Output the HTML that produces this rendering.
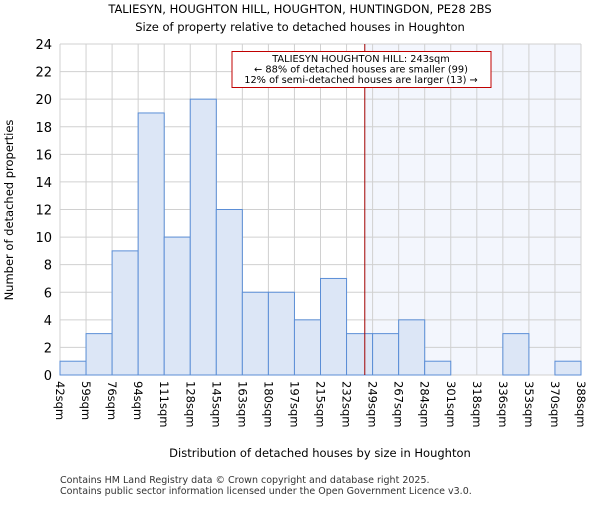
<!DOCTYPE html>
<html><head><meta charset="utf-8"><style>
body{margin:0;background:#fff}
svg{font-family:"DejaVu Sans","Liberation Sans",sans-serif}
</style></head><body>
<svg id="c" width="600" height="500" viewBox="0 0 600 500">
<text x="300" y="13" text-anchor="middle" font-size="11.5">TALIESYN, HOUGHTON HILL, HOUGHTON, HUNTINGDON, PE28 2BS</text>
<text x="300" y="31" text-anchor="middle" font-size="11.5">Size of property relative to detached houses in Houghton</text>
<g id="g"></g>
<text x="320" y="457" text-anchor="middle" font-size="11.5">Distribution of detached houses by size in Houghton</text>
<text transform="translate(13,210) rotate(-90)" text-anchor="middle" font-size="11.5">Number of detached properties</text>
<text x="60" y="483" font-size="9.5" fill="#333">Contains HM Land Registry data © Crown copyright and database right 2025.</text>
<text x="60" y="494" font-size="9.5" fill="#333">Contains public sector information licensed under the Open Government Licence v3.0.</text>
</svg>
<script>
const binLabels=["42sqm","59sqm","76sqm","94sqm","111sqm","128sqm","145sqm","163sqm","180sqm","197sqm","215sqm","232sqm","249sqm","267sqm","284sqm","301sqm","318sqm","336sqm","353sqm","370sqm","388sqm"];
const counts=[1,3,9,19,10,20,12,6,6,4,7,3,3,4,1,0,0,3,0,1];
const yTicks=[0,2,4,6,8,10,12,14,16,18,20,22,24];
const markerIndex=11.7;
const NS="http://www.w3.org/2000/svg";
const g=document.getElementById('g');
const L=60,R=581,T=44,B=375,yMax=24;
const n=counts.length;
const x=i=>L+(R-L)*i/n;
const y=v=>B-(B-T)*v/yMax;
function mk(t,a){const e=document.createElementNS(NS,t);for(const k in a)e.setAttribute(k,a[k]);g.appendChild(e);return e;}
let e;
e=mk('rect',{x:x(markerIndex),y:T,width:R-x(markerIndex),height:B-T,fill:'#eef2fc',opacity:0.7});


yTicks.forEach(v=>{
 e=mk('line',{x1:L,x2:R,y1:y(v),y2:y(v),stroke:'#d0d0d0'});
 
 
 e=mk('text',{x:L-8,y:y(v)+5,'text-anchor':'end','font-size':13});
 e.textContent=v;
 
 
});
for(let i=0;i<=n;i++){
 e=mk('line',{x1:x(i),x2:x(i),y1:T,y2:B,stroke:'#d0d0d0'});
 
 
}
counts.forEach((c,i)=>{
 if(c<=0)return;
 e=mk('rect',{x:x(i),y:y(c),width:x(i+1)-x(i),height:B-y(c),fill:'#dce6f6',stroke:'#5b8ed6','stroke-width':1});
 
 
});
binLabels.forEach((s,i)=>{
 const xx=x(i)-4;
 e=mk('text',{transform:`translate(${xx},381) rotate(90)`,'font-size':11.5});
 e.textContent=s;
 
 
});
const mx=x(markerIndex);
e=mk('line',{x1:mx,x2:mx,y1:T,y2:B,stroke:'#a00000','stroke-width':1});


e=mk('rect',{x:232,y:51.5,width:259,height:36,fill:'#fff',stroke:'#c00000'});


["TALIESYN HOUGHTON HILL: 243sqm","← 88% of detached houses are smaller (99)","12% of semi-detached houses are larger (13) →"].forEach((t,i)=>{
 e=mk('text',{x:361,y:62+i*10.5,'text-anchor':'middle','font-size':9.8});
 e.textContent=t;
 
 
});
</script>
</body></html>
